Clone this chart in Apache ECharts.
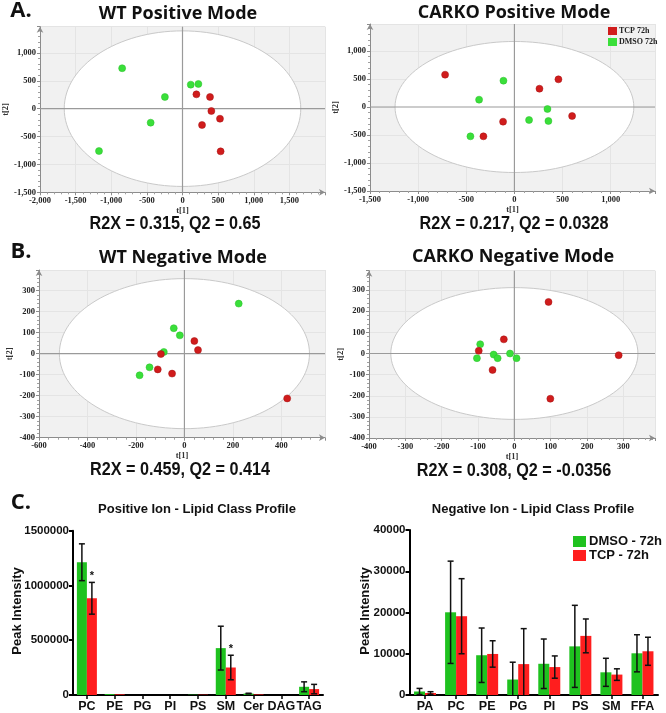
<!DOCTYPE html>
<html><head><meta charset="utf-8">
<script src="https://cdn.jsdelivr.net/npm/echarts@6/dist/echarts.min.js"></script>
<style>html,body{margin:0;padding:0;background:#fff}#c{width:666px;height:713px}</style>
</head><body><div id="c"></div>
<script>
// ---------- Scatter (PCA scores) data: [t[1], t[2]] ----------
const wtPosTCP    = [[195,257],[386,210],[405,-42],[526,-180],[274,-293],[535,-766]];
const wtPosDMSO   = [[-847,725],[-1172,-760],[116,431],[223,443],[-247,210],[-447,-251]];
const carkoPosTCP = [[-720,577],[457,494],[260,327],[599,-161],[-118,-262],[-322,-524]];
const carkoPosDMSO= [[-114,470],[-367,131],[343,-36],[152,-232],[353,-250],[-457,-524]];
const wtNegTCP    = [[41,60],[56,17],[-97,-2],[-110,-75],[-51,-95],[424,-213]];
const wtNegDMSO   = [[224,238],[-44,121],[-19,87],[-85,8],[-144,-65],[-185,-103]];
const carkoNegTCP = [[94,244],[287,-8],[99,-214],[-29,67],[-98,13],[-60,-78]];
const carkoNegDMSO= [[-94,44],[-103,-22],[-57,-5],[-46,-22],[-12,0],[6,-22]];
// Hotelling ellipse semi-axes [t1, t2]
const ellWtPos = [1660,1395], ellCarkoPos = [1240,1170], ellWtNeg = [516,357], ellCarkoNeg = [340,312];
const scatterTitles = ['WT Positive Mode','CARKO Positive Mode','WT Negative Mode','CARKO Negative Mode'];
const statTexts = ['R2X = 0.315, Q2 = 0.65','R2X = 0.217, Q2 = 0.0328','R2X = 0.459, Q2 = 0.414','R2X = 0.308, Q2 = -0.0356'];

// ---------- Bar (lipid class profile) data ----------
const posCats = ['PC','PE','PG','PI','PS','SM','Cer','DAG','TAG'];
const posDMSO    = [1212000, 8000, 0, 0, 3000, 428000, 13000, 0, 75000];
const posDMSOErr = [168000, 0, 0, 0, 0, 200000, 3000, 0, 45000];
const posTCP     = [883000, 6000, 0, 0, 3000, 251000, 5000, 0, 54000];
const posTCPErr  = [145000, 0, 0, 0, 0, 112000, 0, 0, 43000];
const posTCPSig  = ['*','','','','','*','','',''];
const negCats = ['PA','PC','PE','PG','PI','PS','SM','FFA'];
const negDMSO    = [850, 20050, 9640, 3750, 7570, 11790, 5500, 10110];
const negDMSOErr = [750, 12400, 6600, 4200, 6000, 9950, 3400, 4500];
const negTCP     = [480, 19100, 9950, 7490, 6770, 14330, 4950, 10600];
const negTCPErr  = [320, 9100, 3200, 8600, 2700, 4100, 1400, 3400];

const RED_S = '#d01c1c', GREEN_S = '#3adf3a';
const RED_B = '#ff1e1e', GREEN_B = '#1fc21f';
const SERIF = '"Liberation Serif", "DejaVu Serif", serif';
const SANS = '"Liberation Sans", Arial, sans-serif';
const TITLEF = '"Open Sans", "Lato", sans-serif';

const panels = [
  {grid:{left:39, top:26.7, width:286, height:165.6}, x:[-2000,2000,500], y:[-1500,1470,500], ell:ellWtPos, tcp:wtPosTCP, dmso:wtPosDMSO, yGap:30},
  {grid:{left:370, top:24, width:285, height:167}, x:[-1500,1460,500], y:[-1500,1482,500], ell:ellCarkoPos, tcp:carkoPosTCP, dmso:carkoPosDMSO, yGap:29},
  {grid:{left:39, top:270, width:286, height:167.7}, x:[-600,580,200], y:[-400,398,100], ell:ellWtNeg, tcp:wtNegTCP, dmso:wtNegDMSO, yGap:25},
  {grid:{left:369, top:270.7, width:286, height:167.3}, x:[-400,387,100], y:[-400,392,100], ell:ellCarkoNeg, tcp:carkoNegTCP, dmso:carkoNegDMSO, yGap:24}
];

const fmt = v => Number(v).toLocaleString('en-US');
const grids = [], xAxes = [], yAxes = [], series = [];

function sAxis(gi, r, name, gap){
  return {
    type:'value', gridIndex:gi, min:r[0], max:r[1], interval:r[2],
    name:name, nameLocation:'middle', nameGap:gap,
    nameTextStyle:{fontFamily:SERIF, fontWeight:'bold', fontSize:8.5, color:'#333'},
    axisLine:{show:true, onZero:false, symbol:['none','arrow'], symbolSize:[5,6], lineStyle:{color:'#8c8c8c', width:1}},
    axisTick:{show:true, length:3, lineStyle:{color:'#8c8c8c'}},
    minorTick:{show:true, splitNumber:5, length:2, lineStyle:{color:'#a0a0a0'}},
    axisLabel:{fontFamily:SERIF, fontWeight:'bold', fontSize:8.5, color:'#222', margin:4, formatter:fmt, showMaxLabel:false},
    splitLine:{show:true, lineStyle:{color:'#e4e4e4', width:1}}
  };
}

panels.forEach((p, gi) => {
  grids.push(Object.assign({show:true, backgroundColor:'#f1f1f1', borderWidth:0}, p.grid));
  xAxes.push(sAxis(gi, p.x, 't[1]', 14));
  yAxes.push(sAxis(gi, p.y, 't[2]', p.yGap));
  series.push({
    type:'custom', xAxisIndex:gi, yAxisIndex:gi, z:1, silent:true,
    data:[[0,0,p.ell[0],p.ell[1]]],
    renderItem(params, api){
      const c = api.coord([api.value(0), api.value(1)]);
      const e = api.coord([api.value(2), api.value(3)]);
      const cs = params.coordSys;
      return {type:'group', children:[
        {type:'ellipse', shape:{cx:c[0], cy:c[1], rx:e[0]-c[0], ry:c[1]-e[1]}, style:{fill:'#ffffff', stroke:'#c9c9c9', lineWidth:1}},
        {type:'line', shape:{x1:cs.x, y1:c[1], x2:cs.x+cs.width, y2:c[1]}, style:{stroke:'#9a9a9a', lineWidth:1.2}},
        {type:'line', shape:{x1:c[0], y1:cs.y, x2:c[0], y2:cs.y+cs.height}, style:{stroke:'#9a9a9a', lineWidth:1.2}}
      ]};
    }
  });
  series.push({name:'DMSO 72h', type:'scatter', xAxisIndex:gi, yAxisIndex:gi, z:3, data:p.dmso, symbolSize:7,
    itemStyle:{color:GREEN_S, borderColor:'#2bbf2b', borderWidth:0.5, opacity:1}});
  series.push({name:'TCP 72h', type:'scatter', xAxisIndex:gi, yAxisIndex:gi, z:4, data:p.tcp, symbolSize:7,
    itemStyle:{color:RED_S, borderColor:'#a51212', borderWidth:0.5, opacity:1}});
});

// ---------- bar grids ----------
const bars = [
  {grid:{left:73, top:530.7, width:250, height:167}, cats:posCats, d:posDMSO, de:posDMSOErr, t:posTCP, te:posTCPErr, sig:posTCPSig, y:[0,1500000,500000], bw:10},
  {grid:{left:409.5, top:530, width:248.5, height:167.7}, cats:negCats, d:negDMSO, de:negDMSOErr, t:negTCP, te:negTCPErr, sig:null, y:[0,40000,10000], bw:11}
];

function errSeries(gi, mean, err, off, sig){
  return {
    type:'custom', xAxisIndex:gi, yAxisIndex:gi, z:6, silent:true,
    data: mean.map((m,i)=>[i, m-err[i], m+err[i]]),
    renderItem(params, api){
      const i = api.value(0), lo = api.value(1), hi = api.value(2);
      const di = params.dataIndex;
      const children = [];
      const top = api.coord([i, hi]);
      const x = top[0] + off;
      if (err[di] > 0) {
        const botClamped = lo < 0;
        const bot = api.coord([i, Math.max(lo, 0)]);
        const cw = 3;
        children.push({type:'line', shape:{x1:x, y1:top[1], x2:x, y2:bot[1]}, style:{stroke:'#111', lineWidth:1.5}});
        children.push({type:'line', shape:{x1:x-cw, y1:top[1], x2:x+cw, y2:top[1]}, style:{stroke:'#111', lineWidth:1.5}});
        if (!botClamped) children.push({type:'line', shape:{x1:x-cw, y1:bot[1], x2:x+cw, y2:bot[1]}, style:{stroke:'#111', lineWidth:1.5}});
      }
      if (sig && sig[di]) {
        children.push({type:'text', x:x, y:top[1]-1, style:{text:sig[di], font:'bold 11px '+SANS, fill:'#111', textAlign:'center', textVerticalAlign:'bottom'}});
      }
      return {type:'group', children};
    }
  };
}

bars.forEach((b, k) => {
  const gi = 4 + k;
  grids.push(Object.assign({show:false}, b.grid));
  xAxes.push({type:'category', gridIndex:gi, data:b.cats,
    axisLine:{show:true, lineStyle:{color:'#000', width:2}},
    axisTick:{show:true, alignWithLabel:true, length:4, lineStyle:{color:'#000', width:1.5}},
    axisLabel:{interval:0, fontFamily:SANS, fontWeight:'bold', fontSize:12.5, color:'#111', margin:5},
    splitLine:{show:false}});
  yAxes.push({type:'value', gridIndex:gi, min:b.y[0], max:b.y[1], interval:b.y[2],
    axisLine:{show:true, lineStyle:{color:'#000', width:2}},
    axisTick:{show:true, length:4, lineStyle:{color:'#000', width:2}},
    axisLabel:{fontFamily:SANS, fontWeight:'bold', fontSize:11.5, color:'#111', margin:4, formatter:v => String(v)},
    splitLine:{show:false}});
  series.push({name:'DMSO - 72h', type:'bar', xAxisIndex:gi, yAxisIndex:gi, data:b.d, barWidth:b.bw, barGap:'0%', itemStyle:{color:GREEN_B}, z:3});
  series.push({name:'TCP - 72h', type:'bar', xAxisIndex:gi, yAxisIndex:gi, data:b.t, barWidth:b.bw, barGap:'0%', itemStyle:{color:RED_B}, z:3});
  series.push(errSeries(gi, b.d, b.de, -b.bw/2, null));
  series.push(errSeries(gi, b.t, b.te, b.bw/2, b.sig));
});

// ---------- texts ----------
const gtext = (x, y, text, font, extra) => Object.assign({type:'text', x, y, silent:true,
  style:{text, font, fill:'#111', textAlign:'center', textVerticalAlign:'middle'}}, extra||{});
const titlePos = [[178,14],[514,13],[183,258],[513,257]];
const statPos = [[175,224],[514,224],[180,470],[514,471]];
const graphics = [
  gtext(21, 11, 'A.', 'bold 22px '+TITLEF),
  gtext(21, 252, 'B.', 'bold 22px '+TITLEF),
  gtext(21, 503, 'C.', 'bold 22px '+TITLEF),
  gtext(197, 509, 'Positive Ion - Lipid Class Profile', 'bold 13px '+SANS),
  gtext(533, 509, 'Negative Ion - Lipid Class Profile', 'bold 13px '+SANS),
  gtext(17, 611, 'Peak Intensity', 'bold 13px '+SANS, {rotation:Math.PI/2}),
  gtext(365, 611, 'Peak Intensity', 'bold 13px '+SANS, {rotation:Math.PI/2})
];
scatterTitles.forEach((t,i)=>graphics.push(gtext(titlePos[i][0], titlePos[i][1], t, 'bold 18px '+TITLEF)));
statTexts.forEach((t,i)=>graphics.push(gtext(statPos[i][0], statPos[i][1], t, 'bold 18px '+SANS, {scaleX:0.9})));

const chart = echarts.init(document.getElementById('c'));
chart.setOption({
  animation:false,
  grid:grids, xAxis:xAxes, yAxis:yAxes, series:series,
  legend:[
    {data:['TCP 72h','DMSO 72h'], orient:'vertical', left:603, top:22, icon:'rect', itemWidth:9, itemHeight:8, itemGap:3,
     itemStyle:{borderWidth:0},
     selectedMode:false, textStyle:{fontFamily:SERIF, fontWeight:'bold', fontSize:8, color:'#222', padding:[0,0,0,-3]}},
    {data:['DMSO - 72h','TCP - 72h'], orient:'vertical', left:568, top:530, icon:'rect', itemWidth:13, itemHeight:11, itemGap:1,
     itemStyle:{borderWidth:0},
     selectedMode:false, textStyle:{fontFamily:SANS, fontWeight:'bold', fontSize:13, color:'#111', padding:[0,0,0,-2]}}
  ],
  graphic:graphics
});
</script></body></html>
